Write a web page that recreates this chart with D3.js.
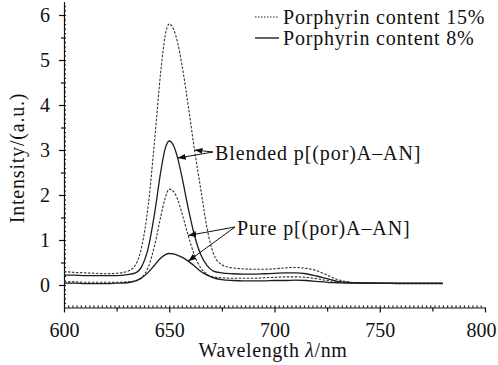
<!DOCTYPE html>
<meta charset="utf-8">
<style>
  body {
    margin: 0;
    background-color: white;
  }

  .axis path,
  .axis line {
    fill: none;
    stroke: #111;
    stroke-width: 1.2;
  }

  .curve {
    fill: none;
    stroke: #1c1c1c;
    stroke-width: 1.3;
  }

  .curve.dash {
    stroke: #333;
    stroke-width: 1.1;
    stroke-dasharray: 2.5, 1.5;
  }
</style>

<body>
  <div id="chart"></div>

  <script src="https://d3js.org/d3.v7.min.js"></script>

  <script>
    // emission spectra, values
    var wavelengths = [600, 605, 610, 615, 620, 625, 630, 634, 637, 640, 643, 646, 648, 650, 652, 654, 656, 659, 662, 665,
      668, 671, 675, 680, 685, 690, 695, 700, 705, 710, 715, 720, 725, 730, 735, 740, 750, 760, 770, 780];

    var blended15 = [0.30, 0.28, 0.27, 0.26, 0.25, 0.26, 0.30, 0.45, 0.87, 1.76, 3.19, 4.76, 5.52, 5.80, 5.69, 5.38, 4.90, 3.99, 3.00, 2.12,
      1.25, 0.70, 0.45, 0.38, 0.36, 0.35, 0.35, 0.36, 0.38, 0.39, 0.37, 0.32, 0.22, 0.12, 0.07, 0.05, 0.04, 0.04, 0.04, 0.04];

    var blended8 = [0.22, 0.22, 0.21, 0.21, 0.21, 0.21, 0.23, 0.27, 0.42, 0.82, 1.58, 2.53, 3.02, 3.20, 3.10, 2.82, 2.41, 1.71, 1.10, 0.67,
      0.43, 0.31, 0.27, 0.25, 0.24, 0.24, 0.25, 0.26, 0.27, 0.27, 0.25, 0.20, 0.14, 0.08, 0.06, 0.05, 0.04, 0.04, 0.04, 0.04];

    var pure15 = [0.07, 0.07, 0.06, 0.06, 0.06, 0.06, 0.07, 0.09, 0.17, 0.39, 0.87, 1.53, 1.92, 2.13, 2.08, 1.90, 1.60, 1.10, 0.66, 0.38,
      0.24, 0.18, 0.16, 0.15, 0.15, 0.15, 0.16, 0.17, 0.18, 0.18, 0.17, 0.14, 0.10, 0.07, 0.05, 0.04, 0.04, 0.04, 0.04, 0.04];

    var pure8 = [0.04, 0.04, 0.03, 0.03, 0.03, 0.04, 0.05, 0.09, 0.16, 0.28, 0.44, 0.60, 0.67, 0.70, 0.69, 0.66, 0.62, 0.53, 0.42, 0.30,
      0.22, 0.16, 0.12, 0.10, 0.09, 0.09, 0.09, 0.10, 0.10, 0.11, 0.10, 0.08, 0.06, 0.05, 0.04, 0.04, 0.04, 0.03, 0.03, 0.03];

    var xTicks = [600, 650, 700, 750, 800];
    var yTicks = [0, 1, 2, 3, 4, 5, 6];
    var legendLabels = ["Porphyrin content 15%", "Porphyrin content 8%"];
    var blendedLabel = "Blended p[(por)A\u2013AN]";
    var pureLabel = "Pure p[(por)A\u2013AN]";

    var width = 498, height = 365;
    var serif = "'Liberation Serif', 'Times New Roman', 'DejaVu Serif', serif";

    var x = d3.scaleLinear().domain([600, 800]).range([64, 485]);
    var y = d3.scaleLinear().domain([-0.5, 6.3]).range([307.5, 1.5]);

    var svg = d3.select("#chart").append("svg")
      .attr("width", width)
      .attr("height", height);

    function setFont(sel, spacing) {
      sel.style("font-family", serif)
        .style("font-size", "20px")
        .style("letter-spacing", spacing + "px")
        .attr("fill", "#111");
    }

    svg.append("defs").append("marker")
      .attr("id", "head")
      .attr("markerUnits", "userSpaceOnUse")
      .attr("viewBox", "0 0 8 6")
      .attr("refX", 8)
      .attr("refY", 3)
      .attr("markerWidth", 8)
      .attr("markerHeight", 6)
      .attr("orient", "auto")
      .append("path")
      .attr("d", "M0,0L8,3L0,6Z")
      .attr("fill", "#111");

    // x axis: labelled ticks, half ticks, tiny inner ticks
    var xBase = y(-0.5);
    svg.append("g")
      .attr("class", "axis")
      .attr("transform", "translate(0," + xBase + ")")
      .call(d3.axisBottom(x).tickValues(xTicks).tickSize(5).tickPadding(10).tickSizeOuter(0).tickFormat(d3.format("d")))
      .call(g => setFont(g.selectAll("text"), 0))
      .call(g => g.select(".tick:last-of-type text").attr("dx", -4));

    svg.append("g")
      .attr("class", "axis")
      .attr("transform", "translate(0," + xBase + ")")
      .call(d3.axisBottom(x).tickValues([625, 675, 725, 775]).tickSize(4).tickFormat(""))
      .call(g => g.select(".domain").remove());

    svg.append("g")
      .attr("class", "axis")
      .attr("transform", "translate(0," + xBase + ")")
      .call(d3.axisTop(x).tickValues(d3.range(602, 800, 2)).tickSize(2).tickFormat(""))
      .call(g => g.select(".domain").remove())
      .call(g => g.selectAll("line").attr("stroke-width", 0.8));

    // y axis
    var yBase = x(600);
    svg.append("g")
      .attr("class", "axis")
      .attr("transform", "translate(" + yBase + ",0)")
      .call(d3.axisLeft(y).tickValues(yTicks).tickSize(5).tickPadding(9).tickSizeOuter(0).tickFormat(d3.format("d")))
      .call(g => setFont(g.selectAll("text"), 0));

    svg.append("g")
      .attr("class", "axis")
      .attr("transform", "translate(" + yBase + ",0)")
      .call(d3.axisLeft(y).tickValues([0.5, 1.5, 2.5, 3.5, 4.5, 5.5]).tickSize(3).tickFormat(""))
      .call(g => g.select(".domain").remove());

    svg.append("g")
      .attr("class", "axis")
      .attr("transform", "translate(" + yBase + ",0)")
      .call(d3.axisRight(y).tickValues(d3.range(-4, 63).map(d => d / 10)).tickSize(2).tickFormat(""))
      .call(g => g.select(".domain").remove())
      .call(g => g.selectAll("line").attr("stroke-width", 0.8));

    // axis titles
    var xTitle = svg.append("text")
      .attr("x", 273)
      .attr("y", 357)
      .attr("text-anchor", "middle")
      .call(setFont, 0.6);
    xTitle.append("tspan").text("Wavelength ");
    xTitle.append("tspan").style("font-style", "italic").text("\u03bb");
    xTitle.append("tspan").text("/nm");

    svg.append("text")
      .attr("transform", "translate(24,158) rotate(-90)")
      .attr("text-anchor", "middle")
      .call(setFont, 0.8)
      .text("Intensity/(a.u.)");

    // spectra
    var line = d3.line()
      .x((d, i) => x(wavelengths[i]))
      .y(d => y(d))
      .curve(d3.curveMonotoneX);

    var series = [
      { values: blended15, dashed: true },
      { values: blended8, dashed: false },
      { values: pure15, dashed: true },
      { values: pure8, dashed: false }
    ];

    svg.selectAll(".curve")
      .data(series)
      .enter().append("path")
      .attr("class", d => d.dashed ? "curve dash" : "curve")
      .attr("d", d => line(d.values));

    // legend
    legendLabels.forEach(function (label, i) {
      var ly = 17 + i * 21;
      svg.append("line")
        .attr("x1", 255).attr("x2", 279)
        .attr("y1", ly).attr("y2", ly)
        .attr("stroke", "#222")
        .attr("stroke-width", i == 0 ? 1 : 1.4)
        .attr("stroke-dasharray", i == 0 ? "1.5,1.5" : null);
      svg.append("text")
        .attr("x", 283)
        .attr("y", ly + 7)
        .call(setFont, 0.8)
        .text(label);
    });

    // annotations pointing at the curves
    function wl(w) { return wavelengths.indexOf(w); }

    function annotate(label, tx, ty, targets) {
      svg.append("text")
        .attr("x", tx)
        .attr("y", ty + 7)
        .call(setFont, 0.9)
        .text(label);
      targets.forEach(function (t) {
        svg.append("line")
          .attr("x1", tx - 2).attr("y1", ty - 1)
          .attr("x2", x(t.w)).attr("y2", y(t.s[wl(t.w)]))
          .attr("stroke", "#111")
          .attr("stroke-width", 1)
          .attr("marker-end", "url(#head)");
      });
    }

    annotate(blendedLabel, 215, 153, [{ w: 662, s: blended15 }, { w: 654, s: blended8 }]);
    annotate(pureLabel, 237, 228, [{ w: 659, s: pure15 }, { w: 659, s: pure8 }]);
  </script>
</body>

</html>
